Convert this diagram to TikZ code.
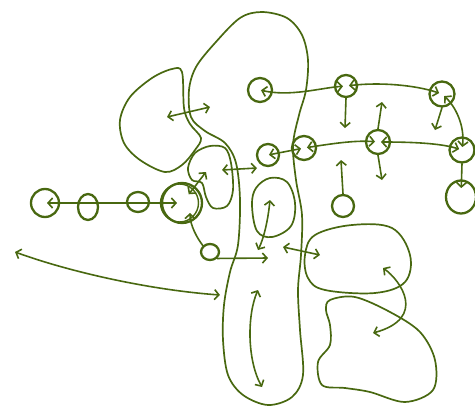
\documentclass[tikz,border=0pt]{standalone}
\usetikzlibrary{arrows.meta,shapes.geometric}
\definecolor{ink}{RGB}{72,104,16}
\begin{document}
\begin{tikzpicture}[x=1pt,y=-1pt, ink, line cap=round, line join=round,
  >={Straight Barb[length=4.5pt,width=10pt]},
  ring/.style={draw, circle, minimum size=#1, inner sep=0pt, line width=2.3pt},
  oval/.style 2 args={draw, ellipse, minimum width=#1, minimum height=#2, inner sep=0pt, line width=2.3pt},
  blob/.style={draw, line width=1.7pt},
  link/.style={line width=1.6pt}]
\useasboundingbox (0,0) rectangle (475,410);

% blobs
\draw[blob] plot[smooth cycle, tension=0.55] coordinates {
 (262,12) (287,18) (302,35) (308,60) (306,90) (299,115) (293,145) (296,180)
 (302,215) (301,255) (298,290) (300,330) (303,375) (292,397) (268,405)
 (243,395) (228,375) (223,340) (224,305) (230,272) (238,245) (240,200)
 (236,163) (225,143) (205,131) (191,117) (189,90) (196,67) (215,43) (240,18)};
\draw[blob] plot[smooth cycle, tension=0.55] coordinates {
 (182,72) (172,69) (152,78) (130,97) (120,120) (124,143) (140,160) (165,172)
 (182,165) (195,150) (201,138) (190,124) (184,108)};
\draw[blob] plot[smooth cycle, tension=0.55] coordinates {
 (188,168) (195,153) (210,146) (225,148) (231,163) (233,190) (227,206)
 (213,208) (206,197) (202,183) (192,180)};
\draw[blob] plot[smooth cycle, tension=0.6] coordinates {
 (270,178) (287,182) (295,203) (291,226) (272,237) (257,231) (252,205) (256,188)};
\draw[blob] plot[smooth cycle, tension=0.6] coordinates {
 (315,235) (352,225) (392,228) (410,255) (405,282) (375,293) (325,290)
 (308,278) (305,255)};
\draw[blob] plot[smooth cycle, tension=0.55] coordinates {
 (330,300) (355,297) (390,312) (420,332) (435,360) (433,390) (405,402)
 (370,392) (345,388) (322,385) (318,362) (330,345) (330,325) (326,310)};

% circles
\node[ring=28pt] (L1) at (45,203) {};
\node[oval={20pt}{26pt}] (L2) at (88,207) {};
\node[oval={22pt}{20pt}] (L3) at (138,202) {};
\node[ring=40pt] (Big) at (182,203) {};
\draw[line width=1.4pt] ([xshift=-2.5pt]Big.center) circle (19pt);
\node[oval={18pt}{16pt}] (Sm) at (210,252) {};
\node[ring=24pt] (T1) at (260,90) {};
\node[ring=22pt] (T2) at (346,86) {};
\node[ring=25pt] (T3) at (442,94) {};
\node[ring=22pt] (R1) at (268,155) {};
\node[ring=24pt] (R2) at (304,148) {};
\node[ring=24pt] (R3) at (378,142) {};
\node[ring=25pt] (R4) at (462,150) {};
\node[oval={30pt}{33pt}] (B1) at (461,197) {};
\node[ring=22pt] (S) at (343,206) {};

% network connectors
\draw[link,<->,shorten <=1pt,shorten >=3pt] (T1.center) .. controls (290,97) and (320,88) .. (T2.center);
\draw[link,<->,shorten <=3pt,shorten >=3pt] (T2.center) .. controls (380,82) and (415,85) .. (T3.center);
\draw[link,<->,shorten <=3pt,shorten >=3pt] (T3.center) .. controls (455,106) and (465,125) .. (R4.center);
\draw[link,<->,shorten <=1pt,shorten >=3pt] (R1.center) -- (R2.center);
\draw[link,<->,shorten <=3pt,shorten >=3pt] (R2.center) .. controls (330,144) and (355,140) .. (R3.center);
\draw[link,<->,shorten <=3pt,shorten >=3pt] (R3.center) .. controls (410,142) and (440,143) .. (R4.center);
\draw[link,->,shorten >=9pt] (R4.south) -- (B1.center);

\coordinate (a1) at (345,128);
\coordinate (a2) at (435,130);
\coordinate (a3) at (382,102);
\coordinate (a4) at (382,180);
\coordinate (a5) at (341,160);
\draw[link,->] (T2.south) -- (a1);
\draw[link,->] (T3.south) -- (a2);
\draw[link,->] (R3.north) -- (a3);
\draw[link,->] (R3.south) -- (a4);
\draw[link,->] (S.north) -- (a5);

\draw[link,<->,shorten <=2pt,shorten >=5pt] (L1.center) -- (Big.center);
\coordinate (m1) at (206,172);
\draw[link,<->,shorten <=11pt] (Big.center) -- (m1);
\coordinate (m2) at (190,213);
\draw[link,->] (Sm.north west) .. controls (197,238) and (190,225) .. (m2);
\coordinate (m3) at (268,258);
\draw[link,->] (Sm.south east) -- (m3);

% blob arrows
\coordinate (p1) at (167,117); \coordinate (p2) at (210,107);
\draw[link,<->] (p1) -- (p2);
\coordinate (q1) at (222,170); \coordinate (q2) at (257,168);
\draw[link,<->] (q1) -- (q2);
\coordinate (r1) at (270,200); \coordinate (r2) at (258,250);
\draw[link,<->] (r1) .. controls (268,220) and (264,238) .. (r2);
\coordinate (s1) at (258,290); \coordinate (s2) at (262,387);
\draw[link,<->] (s1) .. controls (247,315) and (247,360) .. (s2);
\coordinate (u1) at (283,247); \coordinate (u2) at (320,255);
\draw[link,<->] (u1) -- (u2);
\coordinate (v1) at (383,268); \coordinate (v2) at (373,333);
\draw[link,<->] (v1) .. controls (400,280) and (428,318) .. (v2);
\coordinate (w1) at (15,252); \coordinate (w2) at (220,295);
\draw[link,<->] (w1) .. controls (70,272) and (150,290) .. (w2);
\end{tikzpicture}
\end{document}
